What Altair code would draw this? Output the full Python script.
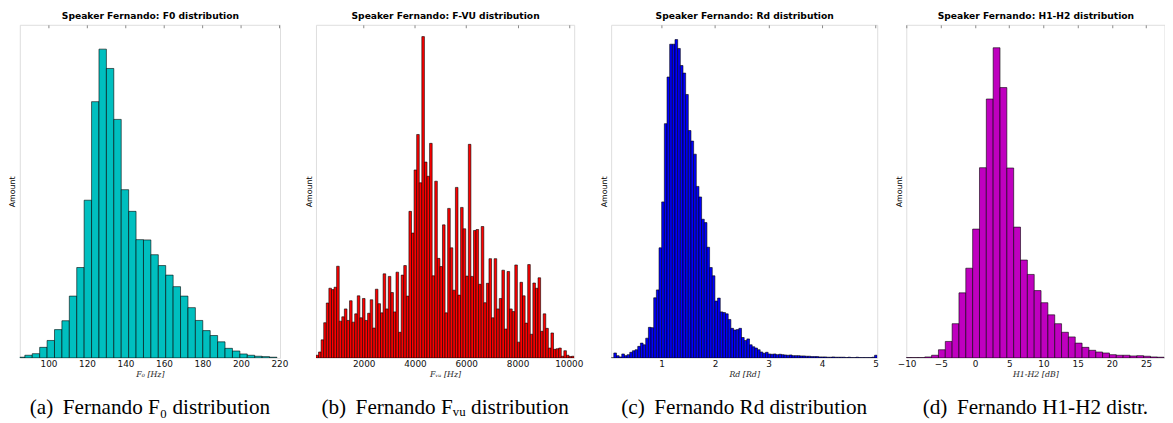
import altair as alt
import pandas as pd

# ---------------- data (bar heights, arbitrary "amount" units) -------------
f0_amount = [0.7, 2.7, 4.3, 10.7, 17.7, 28.7, 37.7, 62.7, 91.7, 160, 260, 313.3, 293.7, 242,
             170.7, 148.7, 120, 119.7, 104.7, 93.7, 84, 72.3, 62.7, 51, 38, 27.7, 22.7, 16.3,
             9.7, 7, 4, 2.7, 1.7, 1.3, 0.7]
f0_lo, f0_width = 83.85, 3.853
f0_domain = [85.1, 220.3]
f0_ticks = [100, 120, 140, 160, 180, 200, 220]

fvu_amount = [2.7, 6, 18.3, 35.7, 55.7, 70.7, 69.3, 71.7, 93, 37.3,
              41.7, 49.7, 38, 58, 36.3, 44.7, 63, 40.7, 60.3, 38,
              45.3, 59, 30.3, 69.7, 55, 45.7, 85.3, 49.7, 82.7, 66.3,
              46.7, 87, 26, 84, 93.7, 62.7, 148.7, 126.7, 190.7, 226.7,
              177.7, 326, 198.7, 184.3, 217.7, 83.3, 179.3, 101, 92.7, 135,
              45.7, 151.7, 111.7, 68.7, 173, 63.7, 152.7, 131, 83, 216.7,
              82.7, 129.3, 130.3, 74.7, 133.3, 56, 75.7, 100.7, 40.7, 100.7,
              49.7, 60.3, 89, 29.3, 87.7, 49.7, 47, 94.3, 16, 76.7,
              63, 35.3, 94.7, 24, 76, 70.7, 81.3, 27, 44.7, 30,
              10, 25.3, 8.7, 9.3, 10, 1.7, 7.3, 2.7, 1.3, 1.7]
fvu_lo, fvu_width = 140.0, 100.7
fvu_domain = [140, 10210]
fvu_ticks = [2000, 4000, 6000, 8000, 10000]

rd_amount = [0, 5, 2.3, 1, 4, 2.3, 3.3, 5.7, 7.3, 8.3,
             11.7, 15, 13.3, 20, 31, 30.7, 61, 69, 111.7, 158.3,
             237.7, 285, 318.3, 318.3, 323, 314, 296.7, 289, 267.3, 230.7,
             220, 206.7, 174, 163.3, 140.7, 137.3, 112.3, 91.7, 83.3, 57.7,
             60.7, 46.7, 46, 44.7, 39, 30, 28.3, 28.7, 30, 20.7,
             17.7, 19.3, 13.3, 11.3, 10, 8.3, 6, 4.7, 5.7, 4,
             3.7, 4, 3.3, 3.7, 3.3, 3, 2.7, 3, 2.3, 2.3,
             2.3, 2, 2, 1.7, 1.7, 1.3, 1.3, 1.3, 1, 1,
             1, 0.7, 0.7, 1, 0.7, 0.7, 0.7, 0.7, 0.3, 0.7,
             0.3, 0.3, 0.7, 0.3, 0.3, 0.3, 0.3, 0.3, 0.7, 2.7]
rd_lo, rd_width = 0.06, 0.0497
rd_domain = [0.06, 5.03]
rd_ticks = [1, 2, 3, 4, 5]

h12_amount = [0.3, 0.3, 0.3, 1, 2.7, 8.3, 16.7, 34.7, 66, 91,
              130.7, 193, 262.7, 314.7, 274.3, 192.7, 132.7, 99.3, 84.7, 68.3,
              56, 43.7, 34.7, 26, 21.3, 15, 10.7, 7.7, 6, 5,
              3.3, 2.7, 2.7, 2, 2.3, 1.7, 1, 0.7]
h12_lo, h12_width = -10.35, 1.0
h12_domain = [-10.05, 27.7]
h12_ticks = [-10, -5, 0, 5, 10, 15, 20, 25]

top_titles = ["Speaker Fernando: F0 distribution", "Speaker Fernando: F-VU distribution",
              "Speaker Fernando: Rd distribution", "Speaker Fernando: H1-H2 distribution"]
x_labels = ["F\u2080 [Hz]", "F\u1d65\u1d64 [Hz]", "Rd [Rd]", "H1-H2 [dB]"]
captions = ["(a)\u2009 Fernando F\u2080 distribution", "(b)\u2009 Fernando F\u1d65\u1d64 distribution",
            "(c)\u2009 Fernando Rd distribution", "(d)\u2009 Fernando H1-H2 distr."]
colors = ["#00BFBF", "#FF0000", "#0000FF", "#BF00BF"]
widths = [264, 262, 270, 262]
flush = [False, False, True, False]

H = 338
YMAX = 338


def panel(amount, lo, width, xdom, ticks, color, top_title, xlabel, caption, w, lflush):
    n = len(amount)
    df = pd.DataFrame({
        "start": [lo + i * width for i in range(n)],
        "end": [lo + (i + 1) * width for i in range(n)],
        "amount": amount,
        "zero": [0] * n,
    })
    xs = alt.Scale(domain=xdom, nice=False, zero=False)
    ys = alt.Scale(domain=[0, YMAX], nice=False)
    base = alt.Chart(df)
    bars = base.mark_bar(color=color, stroke="#000000", strokeWidth=0.7,
                         strokeOpacity=0.85, clip=True).encode(
        x=alt.X("start:Q", scale=xs, axis=alt.Axis(
            values=ticks, ticks=False, domain=False, grid=False, format="d",
            labelFlush=lflush,
            labelFont="DejaVu Sans", labelFontSize=9, labelColor="#111111", labelPadding=2,
            title=xlabel, titleFont="DejaVu Serif", titleFontStyle="italic",
            titleFontWeight="normal", titleFontSize=8, titleColor="#222222", titlePadding=2)),
        x2="end:Q",
        y=alt.Y("amount:Q", scale=ys, axis=alt.Axis(
            title="Amount", labels=False, ticks=False, domain=False, grid=False,
            titleFont="DejaVu Sans", titleFontSize=8, titleFontWeight="normal",
            titleColor="#000000", titlePadding=3)),
        y2="zero:Q",
    )
    top = base.mark_bar(opacity=0, clip=True).encode(
        x=alt.X("start:Q", scale=xs, axis=alt.Axis(
            orient="top", values=ticks, labels=False, ticks=False, domain=False, grid=False,
            title=top_title, titleFont="DejaVu Sans", titleFontWeight="bold",
            titleFontSize=9.3, titleColor="#000000", titlePadding=4)),
        x2="end:Q",
        y=alt.Y("amount:Q", scale=ys, axis=None),
        y2="zero:Q",
    )
    inner_ticks = base.mark_bar(opacity=0, clip=True).encode(
        x=alt.X("start:Q", scale=xs, axis=alt.Axis(
            orient="bottom", offset=-H, values=ticks, labels=False, ticks=True,
            tickSize=3, tickColor="#888888", tickWidth=1, domain=False, grid=False, title="")),
        x2="end:Q",
        y=alt.Y("amount:Q", scale=ys, axis=None),
        y2="zero:Q",
    )
    return alt.layer(bars, top, inner_ticks).resolve_axis(
        x="independent", y="independent"
    ).properties(
        width=w, height=H,
        title=alt.TitleParams(caption, orient="bottom", frame="group", anchor="middle",
                              font="Liberation Serif", fontSize=21.5, fontWeight="normal",
                              color="#000000", baseline="top", offset=19),
    )


panels = [
    panel(f0_amount, f0_lo, f0_width, f0_domain, f0_ticks, colors[0], top_titles[0],
          x_labels[0], captions[0], widths[0], flush[0]),
    panel(fvu_amount, fvu_lo, fvu_width, fvu_domain, fvu_ticks, colors[1], top_titles[1],
          x_labels[1], captions[1], widths[1], flush[1]),
    panel(rd_amount, rd_lo, rd_width, rd_domain, rd_ticks, colors[2], top_titles[2],
          x_labels[2], captions[2], widths[2], flush[2]),
    panel(h12_amount, h12_lo, h12_width, h12_domain, h12_ticks, colors[3], top_titles[3],
          x_labels[3], captions[3], widths[3], flush[3]),
]

chart = alt.hconcat(*panels, spacing=15.5).properties(padding=0).configure_view(
    stroke="#888888", strokeWidth=1
).configure(background="white")

chart.save("out.html", embed_options={"renderer": "svg", "actions": False})
